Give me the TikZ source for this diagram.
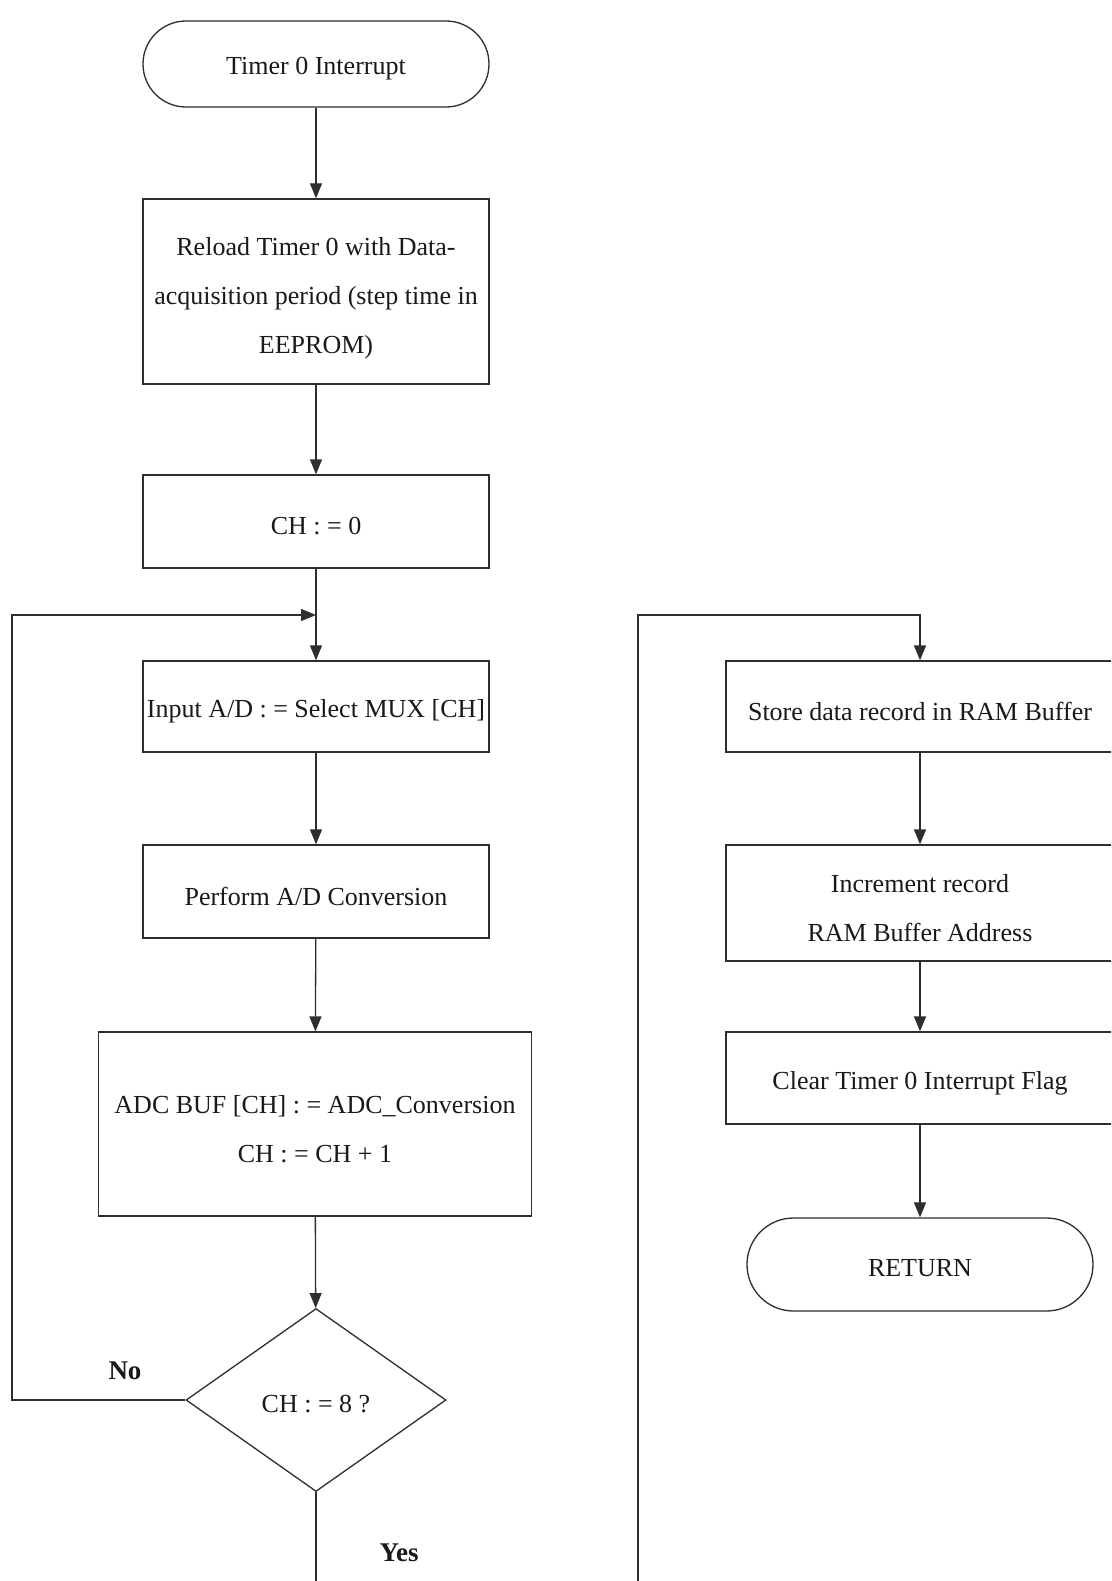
\documentclass[tikz,border=0pt]{standalone}
\usepackage{fontspec}
\setmainfont{Liberation Serif}
\usetikzlibrary{arrows.meta,shapes.geometric,shapes.misc}

\begin{document}
\begin{tikzpicture}[x=1pt,y=-1pt,
  line width=1.3pt,
  every node/.style={font=\fontsize{26}{49}\selectfont, text=black!90},
  procbox/.style={draw=black!82, rectangle, inner sep=0pt,
                  minimum width=346pt, minimum height=#1},
  wideproc/.style={procbox=#1, minimum width=388pt},
  terminal/.style={draw=black!82, rounded rectangle, inner sep=0pt,
                   minimum width=346pt, minimum height=#1},
  decision/.style={draw=black!82, diamond, inner sep=0pt,
                   minimum width=260pt, minimum height=183pt},
  caption/.style={align=center, inner sep=0pt},
  flow/.style={draw=black!82, -{Triangle[width=12pt,length=15pt]}},
  plain/.style={draw=black!82},
  branch/.style={font=\fontsize{27}{30}\selectfont\bfseries}
]
\useasboundingbox (0,0) rectangle (1111,1581);
\fill[white] (0,0) rectangle (1111,1581);
\clip (0,0) rectangle (1111,1581);

% main column: shapes
\node[terminal=86pt]  (start)   at (316,64)     {};
\node[procbox=185pt]  (reload)  at (316,291.5)  {};
\node[procbox=93pt]   (chzero)  at (316,521.5)  {};
\node[procbox=91pt]   (input)   at (316,706.5)  {};
\node[procbox=93pt]   (perform) at (316,891.5)  {};
\node[procbox=184pt, minimum width=433pt] (adcbuf) at (315,1124) {};
\node[decision]       (check)   at (316,1400)   {};

% second column: shapes
\node[wideproc=91pt]  (store)   at (920,706.5)  {};
\node[wideproc=116pt] (incr)    at (920,903)    {};
\node[wideproc=92pt]  (clear)   at (920,1078)   {};
\node[terminal=93pt]  (ret)     at (920,1264.5) {};

% texts, set a little below the optical centre of each shape
\node[caption] (start-t)   at ([yshift=-5pt]start.center)   {Timer 0 Interrupt};
\node[caption] (reload-t)  at ([yshift=-7pt]reload.center)  {Reload Timer 0 with Data-\\acquisition period (step time in\\EEPROM)};
\node[caption] (chzero-t)  at ([yshift=-5pt]chzero.center)  {CH : = 0};
\node[caption] (input-t)   at ([yshift=-5pt]input.center)   {Input A/D : = Select MUX [CH]};
\node[caption] (perform-t) at ([yshift=-5pt]perform.center) {Perform A/D Conversion};
\node[caption] (adcbuf-t)  at ([yshift=-5pt]adcbuf.center)  {ADC BUF [CH] : = ADC\_Conversion\\CH : = CH + 1};
\node[caption] (check-t)   at ([yshift=-4pt]check.center)   {CH : = 8 ?};
\node[caption] (store-t)   at ([yshift=-5pt]store.center)   {Store data record in RAM Buffer};
\node[caption] (incr-t)    at ([yshift=-5pt]incr.center)    {Increment record\\RAM Buffer Address};
\node[caption] (clear-t)   at ([yshift=-5pt]clear.center)   {Clear Timer 0 Interrupt Flag};
\node[caption] (ret-t)     at ([yshift=-4pt]ret.center)     {RETURN};

% branch labels
\node[branch] (nolabel)  at (125,1371) {No};
\node[branch] (yeslabel) at (399,1553) {Yes};

% helper points
\coordinate (join)     at (316,615);
\coordinate (nocorner) at (12,615);
\coordinate (yesend)   at (316,1600);
\coordinate (rstart)   at (638,1600);
\coordinate (rtop)     at (920,615);

% connectors
\draw[flow] (start) -- (reload);
\draw[flow] (reload) -- (chzero);
\draw[flow] (chzero) -- (input);
\draw[flow] (input) -- (perform);
\draw[flow] (perform) -- (adcbuf);
\draw[flow] (adcbuf) -- (check);
\draw[flow] (check.west) -| (nocorner) -- (join);
\draw[plain] (check.south) -- (yesend);
\draw[flow] (rstart) |- (rtop) -- (store.north);
\draw[flow] (store) -- (incr);
\draw[flow] (incr) -- (clear);
\draw[flow] (clear) -- (ret);
\end{tikzpicture}
\end{document}
